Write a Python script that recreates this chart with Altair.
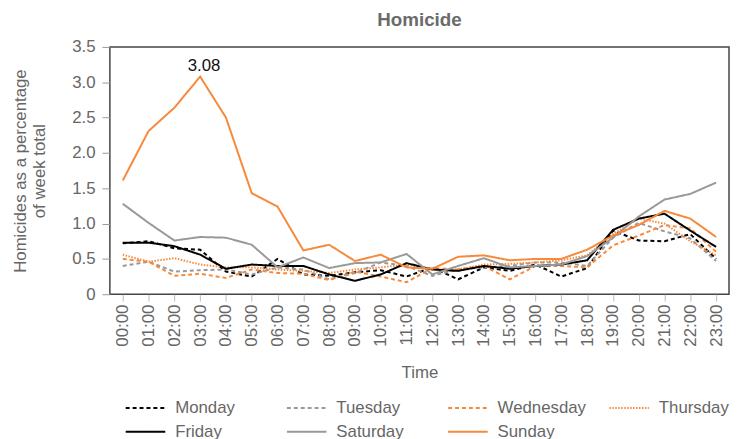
import altair as alt
import pandas as pd

hours = ["00:00", "01:00", "02:00", "03:00", "04:00", "05:00", "06:00", "07:00",
         "08:00", "09:00", "10:00", "11:00", "12:00", "13:00", "14:00", "15:00",
         "16:00", "17:00", "18:00", "19:00", "20:00", "21:00", "22:00", "23:00"]

days = ["Monday", "Tuesday", "Wednesday", "Thursday", "Friday", "Saturday", "Sunday"]

monday = [0.72, 0.75, 0.65, 0.63, 0.32, 0.25, 0.50, 0.28, 0.26, 0.31, 0.34, 0.25,
          0.38, 0.21, 0.38, 0.33, 0.42, 0.25, 0.37, 0.90, 0.76, 0.75, 0.85, 0.50]
tuesday = [0.40, 0.46, 0.32, 0.34, 0.35, 0.28, 0.38, 0.35, 0.21, 0.30, 0.45, 0.40,
           0.26, 0.35, 0.38, 0.40, 0.45, 0.45, 0.40, 0.80, 1.01, 0.89, 0.79, 0.47]
wednesday = [0.50, 0.46, 0.26, 0.29, 0.23, 0.35, 0.30, 0.29, 0.20, 0.32, 0.25, 0.17,
             0.37, 0.35, 0.40, 0.21, 0.40, 0.40, 0.38, 0.69, 0.83, 0.98, 0.93, 0.60]
thursday = [0.56, 0.46, 0.51, 0.42, 0.38, 0.38, 0.35, 0.33, 0.30, 0.35, 0.38, 0.42,
            0.35, 0.35, 0.42, 0.43, 0.45, 0.48, 0.55, 0.85, 1.07, 1.00, 0.75, 0.55]
friday = [0.73, 0.73, 0.68, 0.56, 0.36, 0.42, 0.40, 0.40, 0.28, 0.19, 0.28, 0.44,
          0.35, 0.33, 0.40, 0.36, 0.40, 0.42, 0.48, 0.91, 1.07, 1.14, 0.90, 0.67]
saturday = [1.28, 1.01, 0.76, 0.81, 0.80, 0.70, 0.38, 0.52, 0.37, 0.44, 0.45, 0.57,
            0.28, 0.40, 0.51, 0.38, 0.40, 0.42, 0.54, 0.80, 1.10, 1.34, 1.42, 1.58]
sunday = [1.61, 2.31, 2.64, 3.08, 2.50, 1.43, 1.24, 0.62, 0.70, 0.47, 0.56, 0.38,
          0.36, 0.53, 0.55, 0.48, 0.50, 0.50, 0.63, 0.83, 0.98, 1.18, 1.07, 0.81]

y_ticks = [0, 0.5, 1.0, 1.5, 2.0, 2.5, 3.0, 3.5]

series = [monday, tuesday, wednesday, thursday, friday, saturday, sunday]

BLACK = "#000000"
GRAY = "#999999"
ORANGE = "#f7893b"
colors = [BLACK, GRAY, ORANGE, ORANGE, BLACK, GRAY, ORANGE]
dashes = [[4, 3], [4, 3], [4, 3], [1.5, 1.5], [1, 0], [1, 0], [1, 0]]

rows = []
for d, vals in zip(days, series):
    for h, v in zip(hours, vals):
        rows.append({"day": d, "hour": h, "value": v})
df = pd.DataFrame(rows)

peak_idx = sunday.index(max(sunday))
ann = pd.DataFrame({"hour": [hours[peak_idx]], "value": [sunday[peak_idx]],
                    "label": [f"{sunday[peak_idx]:.2f}"]})

FONT = "Liberation Sans"

x_enc = alt.X("hour:O", sort=hours, title="Time",
              axis=alt.Axis(labelAngle=-90, tickSize=7, tickColor="#bbbbbb",
                            domain=False, labelPadding=3, titlePadding=19,
                            labelOverlap=False))
y_enc = alt.Y("value:Q", scale=alt.Scale(domain=[0, 3.5], nice=False),
              title=["Homicides as a percentage", "of week total"],
              axis=alt.Axis(values=y_ticks,
                            labelExpr="datum.value == 0 ? '0' : format(datum.value, '.1f')",
                            tickSize=8, tickColor="#999999", domain=False,
                            labelPadding=7, titlePadding=23, labelOverlap=False,
                            titleLineHeight=20))

lines = alt.Chart(df).mark_line(strokeWidth=2).encode(
    x=x_enc,
    y=y_enc,
    color=alt.Color("day:N", sort=days,
                    scale=alt.Scale(domain=days, range=colors), title=None),
    strokeDash=alt.StrokeDash("day:N", sort=days,
                              scale=alt.Scale(domain=days, range=dashes), title=None),
    order=alt.Order("hour:O"),
)

text = alt.Chart(ann).mark_text(dy=-11, dx=4, fontSize=17, color="#111111",
                                font=FONT).encode(
    x=x_enc,
    y=y_enc,
    text="label:N",
)

chart = alt.layer(lines, text).properties(
    width=626, height=250,
    title=alt.TitleParams("Homicide", fontSize=19, fontWeight="bold",
                          color="#6b6b6b", font=FONT, offset=8),
    padding={"left": 103, "top": 37, "right": 1, "bottom": 144},
    autosize=alt.AutoSizeParams(type="none"),
).configure_view(
    stroke="#444444", strokeWidth=1.5
).configure_axis(
    grid=False, labelFont=FONT, titleFont=FONT,
    labelFontSize=17, titleFontSize=17, labelColor="#666666",
    titleColor="#666666", titleFontWeight="normal"
).configure_legend(
    orient="none", legendX=25, legendY=354, columns=4, gridAlign="all",
    direction="horizontal",
    columnPadding=19, rowPadding=5, symbolType="M-2,0H2", symbolSize=400,
    symbolStrokeWidth=2, labelFont=FONT, labelFontSize=17,
    labelColor="#666666", labelOffset=19, labelLimit=200
)

chart.save("out.html", embed_options={"renderer": "svg", "actions": False})
